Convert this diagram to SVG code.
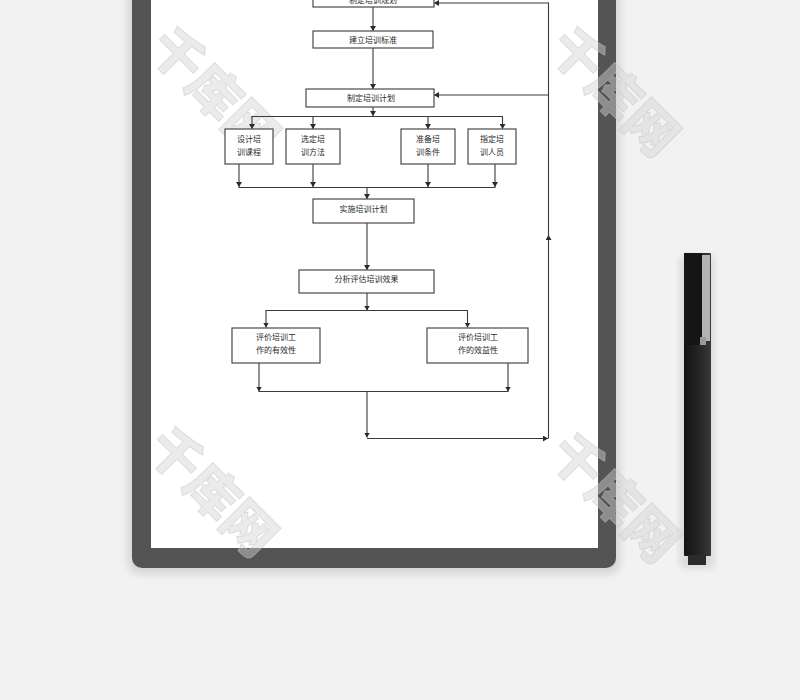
<svg xmlns="http://www.w3.org/2000/svg" width="800" height="700" viewBox="0 0 800 700">
<defs>
<style>
.box{fill:#ffffff;stroke:#4a4a4a;stroke-width:1.2}
.lbl{font-family:"Liberation Serif","Noto Sans CJK SC",serif;font-size:8px;fill:#2a2a2a;text-anchor:middle}
.con{fill:none;stroke:#3a3a3a;stroke-width:1.1}
.arr{marker-end:url(#ah)}
.wm{font-family:"Noto Sans CJK SC",sans-serif;font-weight:900;font-size:52px;fill:#d2d2d2;fill-opacity:0.45;stroke:#c4c4c4;stroke-opacity:0.45;stroke-width:1}
</style>
<marker id="ah" markerUnits="userSpaceOnUse" markerWidth="6" markerHeight="6" refX="5" refY="3" orient="auto">
<path d="M0,0 L5,3 L0,6 z" fill="#2a2a2a"/>
</marker>
<filter id="sh" x="-10%" y="-10%" width="120%" height="120%">
<feGaussianBlur stdDeviation="4"/>
</filter>
<linearGradient id="penG" x1="0" y1="0" x2="1" y2="0">
<stop offset="0" stop-color="#141414"/>
<stop offset="0.6" stop-color="#262626"/>
<stop offset="1" stop-color="#3a3a3a"/>
</linearGradient>
</defs>
<rect x="0" y="0" width="800" height="700" fill="#f2f2f2"/>
<g id="tablet">
<rect x="128" y="-20" width="492" height="594" rx="12" fill="#000" opacity="0.12" filter="url(#sh)"/>
<rect x="132" y="-20" width="484" height="588" rx="10" fill="#545454"/>
<rect x="151" y="-10" width="447" height="558" fill="#ffffff"/>
</g>
<g id="pen">
<rect x="680" y="256" width="34" height="312" rx="4" fill="#000" opacity="0.1" filter="url(#sh)"/>
<rect x="684" y="253" width="27" height="303" rx="1" fill="url(#penG)"/>
<rect x="684" y="253" width="18" height="92" fill="#151515"/>
<rect x="702" y="255" width="8" height="86" fill="#b3b3b3"/>
<rect x="700" y="337" width="6" height="8" fill="#9a9a9a"/>
<rect x="688" y="555" width="18" height="10" fill="#2b2b2b"/>
</g>
<g id="watermarks">
<text class="wm" transform="translate(146,50) rotate(45)">千库网</text>
<text class="wm" transform="translate(546,50) rotate(45)">千库网</text>
<text class="wm" transform="translate(144,450) rotate(45)">千库网</text>
<text class="wm" transform="translate(546,456) rotate(45)">千库网</text>
</g>
<g id="connectors">
<path class="con arr" d="M373,7 V31"/>
<path class="con arr" d="M373,48 V89"/>
<path class="con arr" d="M373,107 V116"/>
<path class="con" d="M251.5,116.5 H503"/>
<path class="con arr" d="M252,116 V129"/>
<path class="con arr" d="M313,116 V129"/>
<path class="con arr" d="M428,116 V129"/>
<path class="con arr" d="M502.5,116 V129"/>
<path class="con arr" d="M239,164 V187"/>
<path class="con arr" d="M313,164 V187"/>
<path class="con arr" d="M428,164 V187"/>
<path class="con arr" d="M495,164 V187"/>
<path class="con" d="M238.5,187.5 H495.5"/>
<path class="con arr" d="M367,187 V199"/>
<path class="con arr" d="M367,223 V270"/>
<path class="con arr" d="M367,293 V310.5"/>
<path class="con" d="M265.5,310.5 H468"/>
<path class="con arr" d="M266,310.5 V327.5"/>
<path class="con arr" d="M467.5,310.5 V327.5"/>
<path class="con arr" d="M259,363 V391.5"/>
<path class="con arr" d="M508,363 V391.5"/>
<path class="con" d="M258.5,391.5 H508.5"/>
<path class="con arr" d="M367,391.5 V437.5"/>
<path class="con arr" d="M367,438.5 H548"/>
<path class="con arr" d="M548.5,438.5 V235"/>
<path class="con" d="M548.5,238 V2.5"/>
<path class="con arr" d="M548.5,3 H434"/>
<path class="con arr" d="M548.5,95 H434"/>
</g>
<g id="n1">
<rect class="box" x="313" y="-10" width="121" height="17"/>
<text class="lbl" x="373" y="2.5">制定培训规划</text>
</g>
<g id="n2">
<rect class="box" x="313" y="31" width="120" height="17"/>
<text class="lbl" x="373" y="42.5">建立培训标准</text>
</g>
<g id="n3">
<rect class="box" x="306" y="89" width="128" height="18"/>
<text class="lbl" x="371" y="101">制定培训计划</text>
</g>
<g id="n4">
<rect class="box" x="225" y="129" width="48" height="35"/>
<text class="lbl" x="249" y="142">设计培</text>
<text class="lbl" x="249" y="155">训课程</text>
</g>
<g id="n5">
<rect class="box" x="286" y="129" width="54" height="35"/>
<text class="lbl" x="313" y="142">选定培</text>
<text class="lbl" x="313" y="155">训方法</text>
</g>
<g id="n6">
<rect class="box" x="401" y="129" width="54" height="35"/>
<text class="lbl" x="428" y="142">准备培</text>
<text class="lbl" x="428" y="155">训条件</text>
</g>
<g id="n7">
<rect class="box" x="468" y="129" width="48" height="35"/>
<text class="lbl" x="492" y="142">指定培</text>
<text class="lbl" x="492" y="155">训人员</text>
</g>
<g id="n8">
<rect class="box" x="313" y="199" width="101" height="24"/>
<text class="lbl" x="363.5" y="212">实施培训计划</text>
</g>
<g id="n9">
<rect class="box" x="299" y="270" width="135" height="23"/>
<text class="lbl" x="366.5" y="282">分析评估培训效果</text>
</g>
<g id="n10">
<rect class="box" x="232" y="328" width="88" height="35"/>
<text class="lbl" x="276" y="340">评价培训工</text>
<text class="lbl" x="276" y="353">作的有效性</text>
</g>
<g id="n11">
<rect class="box" x="427" y="328" width="101" height="35"/>
<text class="lbl" x="478" y="340">评价培训工</text>
<text class="lbl" x="478" y="353">作的效益性</text>
</g>
</svg>
